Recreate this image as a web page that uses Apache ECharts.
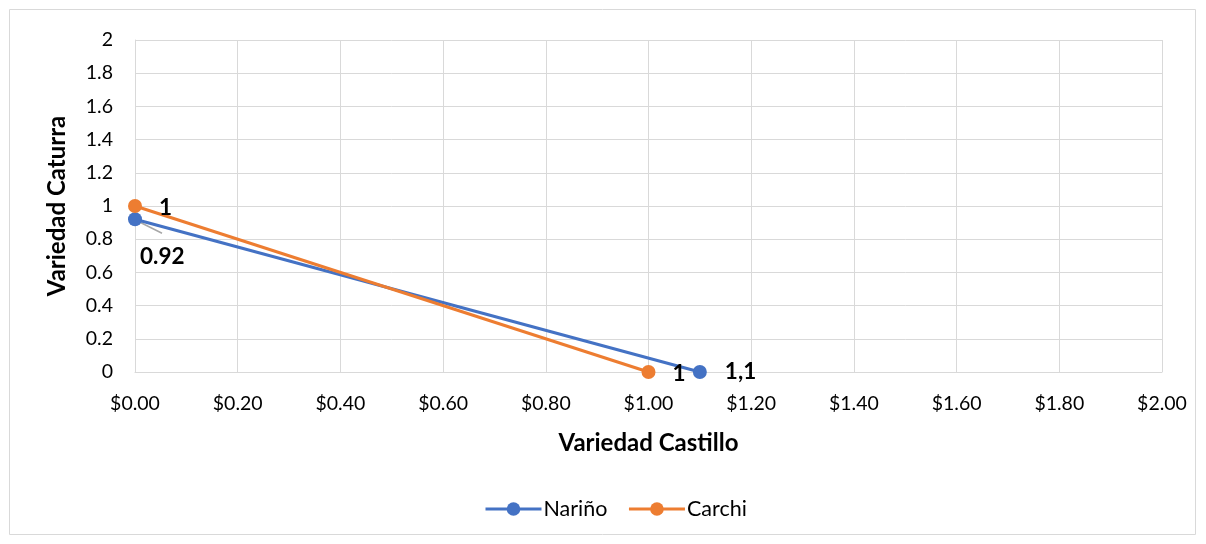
<!DOCTYPE html>
<html><head><meta charset="utf-8">
<script src="https://cdn.jsdelivr.net/npm/echarts@6/dist/echarts.min.js"></script>
<style>html,body{margin:0;padding:0;background:#fff}#c{width:1206px;height:544px}</style>
</head><body><div id="c"></div>
<script>
const seriesNames = ["Nariño", "Carchi"];
const narinoX = [0, 1.1];
const narinoY = [0.92, 0];
const narinoLabels = ["0.92", "1,1"];
const carchiX = [0, 1];
const carchiY = [1, 0];
const carchiLabels = ["1", "1"];
const colors = ["#4472C4", "#ED7D31"];
const FONT = "Lato";

function pts(xs, ys) { return xs.map((x, i) => [x, ys[i]]); }

const chart = echarts.init(document.getElementById('c'));
chart.setOption({
  animation: false,
  textStyle: { fontFamily: FONT },
  grid: { left: 135, right: 44, top: 40, bottom: 172 },
  legend: {
    bottom: 19, left: 479, itemWidth: 56, itemHeight: 17, itemGap: 20,
    lineStyle: { width: 3 },
    textStyle: { fontFamily: FONT, fontSize: 21.5, color: '#000', padding: [0, 0, 0, -3] },
    data: seriesNames
  },
  xAxis: {
    type: 'value', min: 0, max: 2, interval: 0.2,
    name: 'Variedad Castillo', nameLocation: 'middle', nameGap: 59,
    nameTextStyle: { fontFamily: FONT, fontSize: 24, fontWeight: 'bold', color: '#000' },
    axisLine: { show: true, lineStyle: { color: '#d9d9d9' } },
    axisTick: { show: false },
    splitLine: { show: true, lineStyle: { color: '#d9d9d9' } },
    axisLabel: { fontFamily: FONT, fontSize: 19.5, color: '#000', margin: 22, formatter: v => '$' + v.toFixed(2) }
  },
  yAxis: {
    type: 'value', min: 0, max: 2, interval: 0.2,
    name: 'Variedad Caturra', nameLocation: 'middle', nameGap: 66,
    nameTextStyle: { fontFamily: FONT, fontSize: 24, fontWeight: 'bold', color: '#000' },
    axisLine: { show: true, lineStyle: { color: '#d9d9d9' } },
    axisTick: { show: false },
    splitLine: { show: true, lineStyle: { color: '#d9d9d9' } },
    axisLabel: { fontFamily: FONT, fontSize: 19.5, color: '#000', margin: 22, formatter: v => String(Math.round(v * 10) / 10) }
  },
  series: [
    {
      name: seriesNames[0], type: 'line', data: pts(narinoX, narinoY),
      color: colors[0], lineStyle: { width: 3 }, symbol: 'circle', symbolSize: 14,
      label: { show: true, position: 'right', distance: 18, offset: [0, 3], fontFamily: FONT, fontSize: 22.5, fontWeight: 'bold', color: '#000',
               formatter: p => narinoLabels[p.dataIndex] },
      labelLine: { show: false },
      labelLayout: p => p.dataIndex === 0 ? { dx: -20, dy: 37 } : {},
      z: 2
    },
    {
      name: seriesNames[1], type: 'line', data: pts(carchiX, carchiY),
      color: colors[1], lineStyle: { width: 3 }, symbol: 'circle', symbolSize: 14,
      label: { show: true, position: 'right', distance: 17, offset: [0, 2], fontFamily: FONT, fontSize: 22.5, fontWeight: 'bold', color: '#000',
               formatter: p => carchiLabels[p.dataIndex] },
      labelLine: { show: false },
      z: 3
    }
  ]
});
// leader line for the moved "0.92" label, anchored on the data point through the chart's own scale
const anchor = chart.convertToPixel({ gridIndex: 0 }, [narinoX[0], narinoY[0]]);
chart.setOption({
  graphic: [
    { type: 'rect', shape: { x: 9.5, y: 9.5, width: 1186, height: 525 }, style: { fill: 'none', stroke: '#d9d9d9', lineWidth: 1 }, silent: true },
    { type: 'line', z: 1, shape: { x1: anchor[0] + 1, y1: anchor[1] + 1, x2: anchor[0] + 27, y2: anchor[1] + 14 }, style: { stroke: '#a6a6a6', lineWidth: 1.5 }, silent: true }
  ]
});
</script></body></html>
